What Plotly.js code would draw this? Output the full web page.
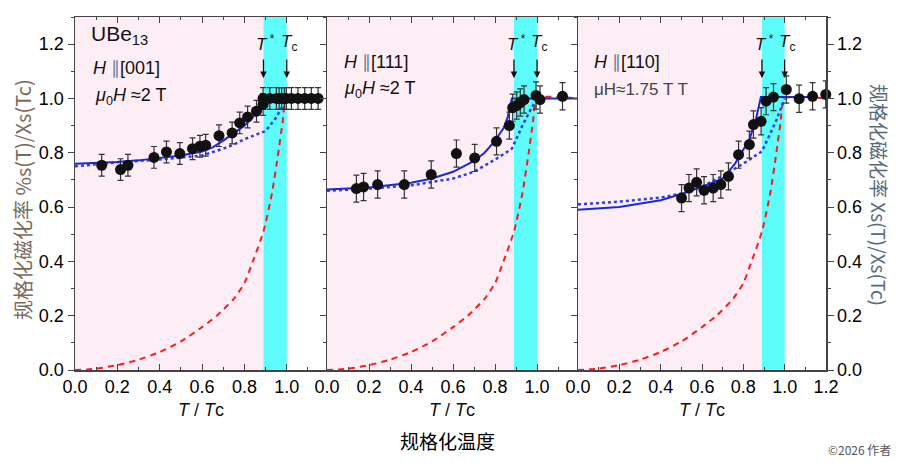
<!DOCTYPE html>
<html>
<head>
<meta charset="utf-8">
<script src="https://cdn.plot.ly/plotly-3.0.1.min.js"></script>
<style>
	body { margin: 0; background: #fff; }
	#plotDiv { width: 900px; height: 463px; }
</style>
</head>
<body>
<div id="plotDiv"></div>
<script>
// --- data ---
// red dashed curve (same in all panels)
const redT = [0, 0.1, 0.2, 0.3, 0.4, 0.5, 0.6, 0.67, 0.75, 0.8, 0.84, 0.89, 0.93, 0.96, 0.98, 1.0, 1.19]
const redY = [0, 0.005, 0.018, 0.038, 0.066, 0.105, 0.158, 0.2, 0.262, 0.32, 0.4, 0.51, 0.65, 0.8, 0.91, 1.0, 1.0]

// H || [001]
const t001 = [0.126, 0.215, 0.25, 0.373, 0.432, 0.495, 0.555, 0.59, 0.617, 0.68, 0.742, 0.778, 0.815, 0.857, 0.888, 0.888, 0.92, 0.951, 0.964, 0.976, 0.989, 0.998, 1.022, 1.053, 1.085, 1.116, 1.148]
const y001 = [0.754, 0.738, 0.754, 0.783, 0.803, 0.797, 0.815, 0.824, 0.828, 0.863, 0.873, 0.91, 0.932, 0.953, 0.978, 1.0, 1.0, 1.0, 1.0, 1.0, 1.0, 1.0, 1.0, 1.0, 1.0, 1.0, 1.0]
const fit001T = [0, 0.1, 0.2, 0.3, 0.4, 0.5, 0.6, 0.65, 0.7, 0.75, 0.8, 0.84, 0.87, 0.89, 1.155]
const fit001Y = [0.76, 0.762, 0.766, 0.772, 0.78, 0.79, 0.805, 0.82, 0.845, 0.872, 0.9, 0.93, 0.97, 1.0, 1.0]
const dot001T = [0, 0.2, 0.4, 0.6, 0.7, 0.75, 0.8, 0.85, 0.9, 0.95, 1.0]
const dot001Y = [0.75, 0.765, 0.775, 0.79, 0.815, 0.83, 0.85, 0.865, 0.88, 0.93, 1.0]

// H || [111]
const t111 = [0.14, 0.174, 0.241, 0.368, 0.496, 0.616, 0.703, 0.807, 0.868, 0.884, 0.903, 0.92, 0.938, 0.995, 1.014, 1.121]
const y111 = [0.668, 0.674, 0.683, 0.683, 0.72, 0.797, 0.781, 0.842, 0.9, 0.966, 0.974, 0.985, 0.996, 1.011, 0.996, 1.008]
const fit111T = [0, 0.2, 0.4, 0.5, 0.6, 0.7, 0.75, 0.8, 0.84, 0.86, 0.88, 1.19]
const fit111Y = [0.665, 0.672, 0.69, 0.705, 0.73, 0.77, 0.8, 0.845, 0.89, 0.93, 1.0, 1.0]
const dot111T = [0, 0.2, 0.4, 0.6, 0.7, 0.8, 0.88, 0.93, 0.97, 1.0]
const dot111Y = [0.66, 0.668, 0.68, 0.705, 0.73, 0.775, 0.815, 0.9, 0.96, 1.0]

// H || [110]
const t110 = [0.501, 0.537, 0.574, 0.61, 0.654, 0.691, 0.728, 0.777, 0.829, 0.849, 0.886, 0.91, 0.946, 1.008, 1.07, 1.135, 1.199]
const y110 = [0.633, 0.67, 0.691, 0.662, 0.67, 0.683, 0.713, 0.793, 0.83, 0.904, 0.916, 0.99, 1.005, 1.033, 0.999, 1.008, 1.015]
const fit110T = [0, 0.2, 0.4, 0.5, 0.6, 0.7, 0.76, 0.8, 0.83, 0.86, 0.885, 1.16]
const fit110Y = [0.59, 0.6, 0.625, 0.648, 0.675, 0.705, 0.76, 0.81, 0.85, 0.92, 1.005, 1.005]
const dot110T = [0, 0.2, 0.4, 0.5, 0.6, 0.7, 0.8, 0.89, 0.93, 0.96, 1.0]
const dot110Y = [0.61, 0.62, 0.635, 0.65, 0.675, 0.715, 0.76, 0.805, 0.87, 0.92, 1.0]

const errs = [0.04, 0.05, 0.05]
const tStar = 0.89
const tC = 1.0

const xTicks12 = [0, 0.2, 0.4, 0.6, 0.8, 1.0]
const xTicks3 = [0, 0.2, 0.4, 0.6, 0.8, 1.0, 1.2]
const yTicks = [0, 0.2, 0.4, 0.6, 0.8, 1.0, 1.2]

const panels = [
	{t: t001, y: y001, fT: fit001T, fY: fit001Y, dT: dot001T, dY: dot001Y},
	{t: t111, y: y111, fT: fit111T, fY: fit111Y, dT: dot111T, dY: dot111Y},
	{t: t110, y: y110, fT: fit110T, fY: fit110Y, dT: dot110T, dY: dot110Y},
]

const W = 900, H = 463
const px = v => v / W
const py = v => (H - v) / H

const ax = ['', '2', '3']
const data = []
panels.forEach((p, i) => {
	const xa = 'x' + ax[i], ya = 'y' + ax[i]
	data.push({x: redT, y: redY, xaxis: xa, yaxis: ya, mode: 'lines', line: {color: '#ff1a1a', width: 2, dash: '6px,5px', shape: 'spline', smoothing: 0.6}})
	data.push({x: p.dT, y: p.dY, xaxis: xa, yaxis: ya, mode: 'lines',
		line: {color: '#2a3cf0', width: 2.5, dash: 'dot'}})
	data.push({x: p.fT, y: p.fY, xaxis: xa, yaxis: ya, mode: 'lines',
		line: {color: '#1a28e0', width: 2}})
	data.push({x: p.t, y: p.y, xaxis: xa, yaxis: ya, mode: 'markers', cliponaxis: false,
		marker: {color: '#111', size: 11},
		error_y: {type: 'constant', value: errs[i], color: '#333', thickness: 1.2, width: 3}})
})

const spine = '#444'
const tickFont = {family: 'Liberation Sans, Arial, sans-serif', size: 18, color: '#000'}
const doms = [[px(75), px(327)], [px(327), px(577)], [px(578), px(826)]]
const ranges = [[0, 1.19], [0, 1.19], [0, 1.2]]
const yDom = [py(370), py(17)]

const xAxis = i => ({
	domain: doms[i], range: ranges[i], anchor: 'y' + ax[i],
	tickvals: i == 2 ? xTicks3 : xTicks12, ticktext: (i == 2 ? xTicks3 : xTicks12).map(v => v.toFixed(1)),
	ticks: 'inside', ticklen: 6, tickcolor: spine, mirror: 'ticks',
	minor: {dtick: 0.1, ticks: 'inside', ticklen: 3, tickcolor: spine},
	showline: true, linecolor: spine, linewidth: 1.5,
	showgrid: false, zeroline: false, tickfont: tickFont, fixedrange: true
})
const yAxis = (i, extra) => Object.assign({
	domain: yDom, range: [0, 1.3], anchor: 'x' + ax[i],
	tickvals: yTicks, ticktext: yTicks.map(v => v.toFixed(1)),
	ticks: 'outside', ticklen: 6, tickcolor: spine, mirror: true,
	minor: {dtick: 0.1, ticks: 'outside', ticklen: 3, tickcolor: spine},
	showline: true, linecolor: spine, linewidth: 1.5,
	showgrid: false, zeroline: false, tickfont: tickFont, fixedrange: true
}, extra)

const shapes = []
ax.forEach(s => {
	shapes.push({type: 'rect', xref: 'x' + s, yref: 'y' + s, x0: 0, x1: tStar, y0: 0, y1: 1.3,
		fillcolor: '#fdeef6', line: {width: 0}, layer: 'below'})
	shapes.push({type: 'rect', xref: 'x' + s, yref: 'y' + s, x0: tStar, x1: tC, y0: 0, y1: 1.3,
		fillcolor: '#5ffcfc', line: {width: 0}, layer: 'below'})
})

const txt = {family: 'Liberation Sans, Arial, sans-serif', size: 18, color: '#111'}
const bar = '<span style="color:#6f7f9a">∥</span>'
const annotations = []
const note = (s, x, y, text, font) => annotations.push({xref: 'x' + s, yref: 'y' + s, x, y, text,
	showarrow: false, xanchor: 'left', yanchor: 'middle', font: font || txt})
note('', 0.065, 1.235, 'UBe<sub>13</sub>', Object.assign({}, txt, {size: 21}))
note('', 0.075, 1.114, '<i>H</i> ' + bar + '[001]')
note('', 0.085, 1.007, '<i>μ</i><sub>0</sub><i>H</i> ≈2 T')
note('2', 0.07, 1.136, '<i>H</i> ' + bar + '[111]')
note('2', 0.07, 1.033, '<i>μ</i><sub>0</sub><i>H</i> ≈2 T')
note('3', 0.07, 1.136, '<i>H</i> ' + bar + '[110]')
note('3', 0.07, 1.033, 'μH≈1.75 T T', Object.assign({}, txt, {size: 17, color: '#444'}))

ax.forEach(s => {
	[[tStar, '<i>T</i><sup> *</sup>'], [tC, '<i>T</i><sub>c</sub>']].forEach(([x, lab]) => {
		annotations.push({xref: 'x' + s, yref: 'y' + s, x, y: 1.075, ax: 0, ay: -20,
			text: '', showarrow: true, arrowhead: 2, arrowsize: 1, arrowwidth: 1.3, arrowcolor: '#111'})
		annotations.push({xref: 'x' + s, yref: 'y' + s, x: x + 0.01, y: 1.205, text: lab,
			showarrow: false, xanchor: 'center', yanchor: 'middle', font: Object.assign({}, txt, {size: 17})})
	})
})

// axis titles and page texts
const pageNote = (x, y, text, font, extra) => annotations.push(Object.assign({xref: 'paper', yref: 'paper',
	x: px(x), y: py(y), text, showarrow: false, xanchor: 'center', yanchor: 'middle', font}, extra || {}))
const xt = '<i>T</i> / <i>T</i>c'
;[201, 452, 702].forEach(c => pageNote(c, 410, xt, Object.assign({}, txt, {size: 18})))
pageNote(447, 440, '规格化温度', {family: 'Noto Sans CJK SC, sans-serif', size: 19, color: '#000'})
pageNote(22, 200, '规格化磁化率 %s(T)/Xs(Tc)', {family: 'Noto Sans CJK SC, sans-serif', size: 20, color: '#7b6b5c'}, {textangle: -90})
pageNote(880, 195, '规格化磁化率 Xs(T)/Xs(Tc)', {family: 'Noto Sans CJK SC, sans-serif', size: 19, color: '#566a7c'}, {textangle: 90})
pageNote(893, 449, '©2026 作者', {family: 'Noto Sans CJK SC, sans-serif', size: 12, color: '#555'}, {xanchor: 'right'})

const layout = {
	width: W, height: H,
	margin: {l: 0, r: 0, t: 0, b: 0},
	paper_bgcolor: '#fff', plot_bgcolor: 'rgba(0,0,0,0)',
	showlegend: false,
	xaxis: xAxis(0), xaxis2: xAxis(1), xaxis3: xAxis(2),
	yaxis: yAxis(0),
	yaxis2: yAxis(1, {showticklabels: false}),
	yaxis3: yAxis(2, {showticklabels: false}),
	yaxis4: yAxis(2, {overlaying: 'y3', side: 'right', anchor: 'x3', mirror: false}),
	shapes, annotations
}
// invisible trace so yaxis4 is drawn
data.push({x: [0], y: [0], xaxis: 'x3', yaxis: 'y4', mode: 'markers', marker: {opacity: 0}})

Plotly.newPlot('plotDiv', data, layout, {displayModeBar: false, staticPlot: true})
</script>
</body>
</html>
